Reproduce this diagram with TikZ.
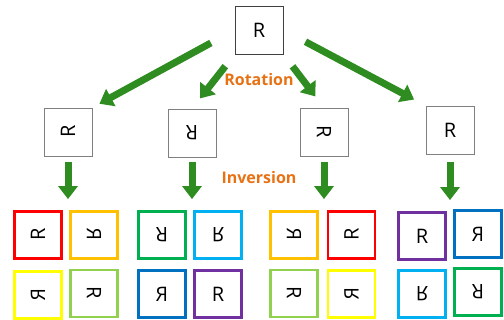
\documentclass[tikz,border=0pt]{standalone}
\usepackage{fontspec}
\usepackage{graphicx}
\usetikzlibrary{arrows.meta}
\newfontfamily\glyphfont{Open Sans}

\definecolor{flowgreen}{RGB}{46,140,32}
\definecolor{captionorange}{RGB}{232,113,20}
\definecolor{cRed}{RGB}{255,0,0}
\definecolor{cOrange}{RGB}{255,192,0}
\definecolor{cYellow}{RGB}{255,255,0}
\definecolor{cLime}{RGB}{146,208,80}
\definecolor{cGreen}{RGB}{0,176,80}
\definecolor{cSky}{RGB}{0,176,240}
\definecolor{cBlue}{RGB}{0,112,192}
\definecolor{cPurple}{RGB}{112,48,160}

% the eight orientations of the letter
\newcommand\oId{R}
\newcommand\oCcw{\rotatebox[origin=c]{90}{R}}
\newcommand\oHalf{\rotatebox[origin=c]{180}{R}}
\newcommand\oCw{\rotatebox[origin=c]{-90}{R}}
\newcommand\oMirH{\reflectbox{R}}
\newcommand\oMirV{\rotatebox[origin=c]{180}{\reflectbox{R}}}
\newcommand\oDiagA{\reflectbox{\rotatebox[origin=c]{90}{R}}}
\newcommand\oDiagB{\reflectbox{\rotatebox[origin=c]{-90}{R}}}

\begin{document}
\begin{tikzpicture}[x=1pt,y=-1pt,
  glyph/.style={font=\glyphfont\fontsize{20}{20}\selectfont, inner sep=0pt},
  plainbox/.style={glyph, draw=#1, line width=0.8pt, minimum size=48pt},
  tile/.style={glyph, draw=#1, line width=2.8pt, minimum size=47pt},
  flow/.style={draw=flowgreen, line width=7pt, -{Triangle[width=19pt,length=13pt]}},
  caption/.style={text=captionorange, font=\glyphfont\bfseries\fontsize{16}{16}\selectfont, inner sep=0pt}]

\useasboundingbox (0,0) rectangle (504,320);

% source letter and its four rotations
\node[plainbox=black!75] (T) at (259,30) {\oId};
\node[plainbox=black!50] (B1) at (68,132) {\oCcw};
\node[plainbox=black!50] (B2) at (192,133) {\oHalf};
\node[plainbox=black!50] (B3) at (324,132) {\oCw};
\node[plainbox=black!50] (B4) at (450,130) {\oId};

% inversions of each rotation
\node[tile=cRed]    (g1a) at (38,235)   {\oCcw};
\node[tile=cOrange] (g1b) at (94,235)   {\oDiagA};
\node[tile=cYellow] (g1c) at (38,295)   {\oDiagB};
\node[tile=cLime]   (g1d) at (94,293.5) {\oCw};

\node[tile=cGreen]  (g2a) at (162,235) {\oHalf};
\node[tile=cSky]    (g2b) at (218,235) {\oMirV};
\node[tile=cBlue]   (g2c) at (162,294) {\oMirH};
\node[tile=cPurple] (g2d) at (218,294) {\oId};

\node[tile=cOrange] (g3a) at (294,235)   {\oDiagA};
\node[tile=cRed]    (g3b) at (351.5,235) {\oCcw};
\node[tile=cLime]   (g3c) at (294,293.5) {\oCw};
\node[tile=cYellow] (g3d) at (351.5,294) {\oDiagB};

\node[tile=cPurple] (g4a) at (422,236) {\oId};
\node[tile=cBlue]   (g4b) at (478,234) {\oMirH};
\node[tile=cSky]    (g4c) at (422,294) {\oMirV};
\node[tile=cGreen]  (g4d) at (478,292) {\oHalf};

% captions
\node[caption] (rot) at (259,80) {Rotation};
\node[caption] (inv) at (259,178) {Inversion};

% rotation arrows
\draw[flow, shorten <=27pt, shorten >=8pt]  (T.west) -- (B1.north east);
\draw[flow, shorten <=15pt, shorten >=13pt] (T.south west) -- (B2.north);
\draw[flow, shorten <=15pt, shorten >=14pt] (T.south east) -- (B3.north);
\draw[flow, shorten <=25pt, shorten >=13pt] (T.east) -- (B4.north west);

% inversion arrows
\draw[flow, shorten <=6pt, shorten >=11pt] (B1.south) -- (B1.south |- g1a.north);
\draw[flow, shorten <=5pt, shorten >=11pt] (B2.south) -- (B2.south |- g2a.north);
\draw[flow, shorten <=6pt, shorten >=11pt] (B3.south) -- (B3.south |- g3a.north);
\draw[flow, shorten <=8pt, shorten >=11pt] (B4.south) -- (B4.south |- g4a.north);
\end{tikzpicture}
\end{document}
